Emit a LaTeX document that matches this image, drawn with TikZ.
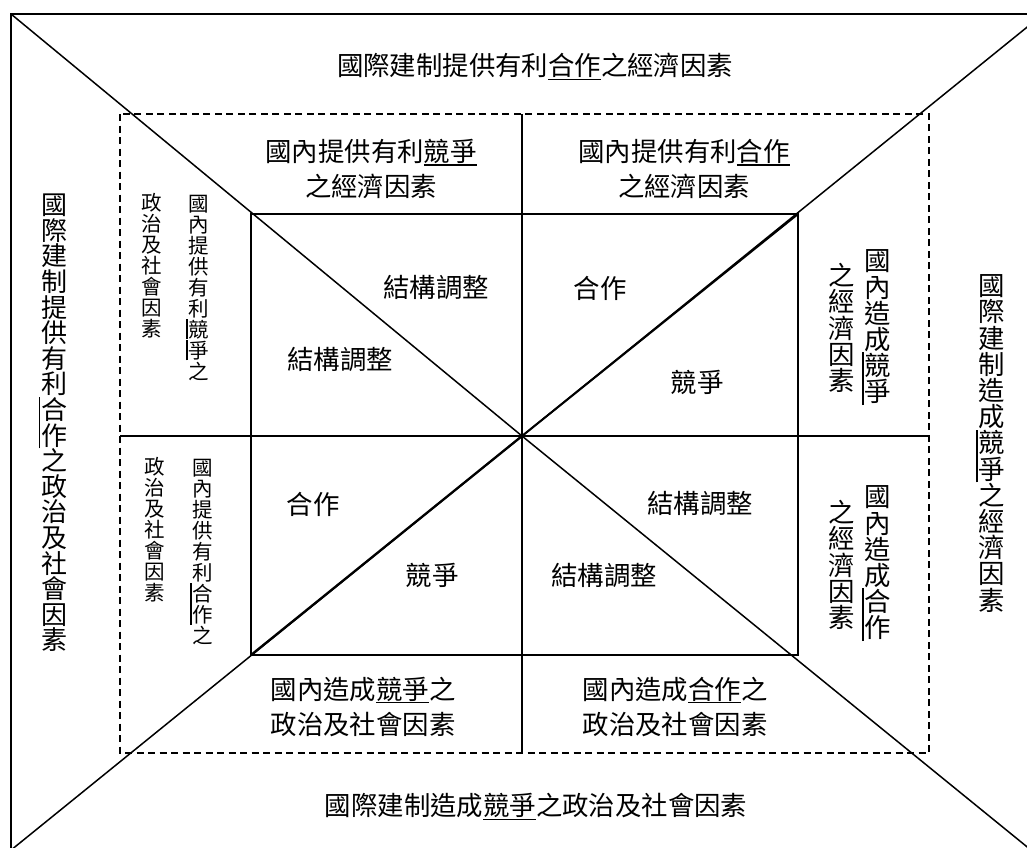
\documentclass[tikz,border=0pt]{standalone}
\usepackage{fontspec}
\setmainfont{Noto Sans CJK TC}
\newcommand\fbig{\fontsize{26.4pt}{35pt}\selectfont\lineskiplimit=-30pt\lineskip=0pt}
\newcommand\fvbig{\fontsize{26.4pt}{26.2pt}\selectfont\lineskiplimit=-30pt\lineskip=0pt}
\newcommand\fvleft{\fontsize{26pt}{25.6pt}\selectfont\lineskiplimit=-30pt\lineskip=0pt}
\newcommand\fvsmall{\fontsize{20.5pt}{21pt}\selectfont\lineskiplimit=-30pt\lineskip=0pt}
\newcommand\hu[1]{\setbox0=\hbox{#1}\rlap{\rule[-0.17em]{\wd0}{1.5pt}}\box0}
\newcommand\vu[1]{\llap{\rule[-0.12em]{1.4pt}{1em}\kern1pt}#1}
\newcommand\vut[1]{\llap{\rule[-0.12em]{0.9pt}{1em}\kern1.5pt}#1}
\begin{document}
\begin{tikzpicture}[x=1pt,y=-1pt,
  outerline/.style={line width=2pt},
  diagline/.style={line width=1.5pt},
  diagthick/.style={line width=2.3pt},
  dashline/.style={line width=1.5pt, dash pattern=on 7pt off 4.5pt},
  crossline/.style={line width=1.5pt},
  innerline/.style={line width=2pt},
  lbl/.style={font=\fbig, inner sep=0pt, align=center},
  vbig/.style={font=\fvbig, inner sep=0pt, align=center},
  vleft/.style={font=\fvleft, inner sep=0pt, align=center},
  vsmall/.style={font=\fvsmall, inner sep=0pt, align=center}]
\useasboundingbox (0,0) rectangle (1027,847);
\fill[white] (0,0) rectangle (1027,847);
\clip (0,0) rectangle (1027,847);
% key points
\coordinate (C) at (522,436);
\coordinate (OTL) at (11,14);
\coordinate (OTR) at (1047,11);
\coordinate (OBL) at (0,859);
\coordinate (OBR) at (1042,859);
\coordinate (ITL) at (251,214);
\coordinate (ITR) at (798,214);
\coordinate (IBL) at (251,655);
\coordinate (IBR) at (798,655);
\coordinate (DTL) at (120,114);
\coordinate (DBR) at (929,753);
\coordinate (HL) at (120,436);
\coordinate (HR) at (929,436);
\coordinate (VT) at (522,114);
\coordinate (VB) at (522,753);
% outer frame
\draw[outerline] (1040,14) -- (OTL) -- (11,860);
% diagonals
\draw[diagline] (OTL) -- (C);
\draw[diagline] (C) -- (OTR);
\draw[diagline] (C) -- (OBL);
\draw[diagline] (C) -- (OBR);
\draw[diagthick] (C) -- (IBL);
\draw[innerline] (C) -- (ITR);
% dashed frame and cross
\draw[dashline] (DTL) rectangle (DBR);
\draw[crossline] (HL) -- (HR);
\draw[crossline] (VT) -- (VB);
% inner rectangle
\draw[innerline] (ITL) rectangle (IBR);
% outer labels
\node[lbl] (top) at (535,67) {國際建制提供有利\hu{合作}之經濟因素};
\node[lbl] (bottom) at (536,807) {國際建制造成\hu{競爭}之政治及社會因素};
\node[vleft] (left) at (54,423) {國\\際\\建\\制\\提\\供\\有\\利\\\vut{合}\\\vut{作}\\之\\政\\治\\及\\社\\會\\因\\素};
\node[vbig] (right) at (992,443.5) {國\\際\\建\\制\\造\\成\\\vu{競}\\\vu{爭}\\之\\經\\濟\\因\\素};
% inner band labels
\node[lbl] (tl) at (371,168.5) {國內提供有利\hu{競爭}\\之經濟因素};
\node[lbl] (tr) at (684,168.5) {國內提供有利\hu{合作}\\之經濟因素};
\node[lbl] (bl) at (363,706.5) {國內造成\hu{競爭}之\\政治及社會因素};
\node[lbl] (br) at (675,706.5) {國內造成\hu{合作}之\\政治及社會因素};
% left panel
\node[vsmall] (lu1) at (199,287.5) {國\\內\\提\\供\\有\\利\\\vu{競}\\\vu{爭}\\之};
\node[vsmall] (lu2) at (152,265.5) {政\\治\\及\\社\\會\\因\\素};
\node[vsmall] (ll1) at (203,552) {國\\內\\提\\供\\有\\利\\\vu{合}\\\vu{作}\\之};
\node[vsmall] (ll2) at (155,530) {政\\治\\及\\社\\會\\因\\素};
% right panel
\node[vbig] (ru1) at (878,327.5) {國\\內\\造\\成\\\vu{競}\\\vu{爭}};
\node[vbig] (ru2) at (842,328) {之\\經\\濟\\因\\素};
\node[vbig] (rl1) at (878,563.5) {國\\內\\造\\成\\\vu{合}\\\vu{作}};
\node[vbig] (rl2) at (842,565) {之\\經\\濟\\因\\素};
% quadrant labels
\node[lbl] (q1) at (436,287) {結構調整};
\node[lbl] (q2) at (340,359) {結構調整};
\node[lbl] (q3) at (600,288) {合作};
\node[lbl] (q4) at (697,382) {競爭};
\node[lbl] (q5) at (313,504) {合作};
\node[lbl] (q6) at (432,575) {競爭};
\node[lbl] (q7) at (700,503) {結構調整};
\node[lbl] (q8) at (604,575) {結構調整};
\end{tikzpicture}
\end{document}
